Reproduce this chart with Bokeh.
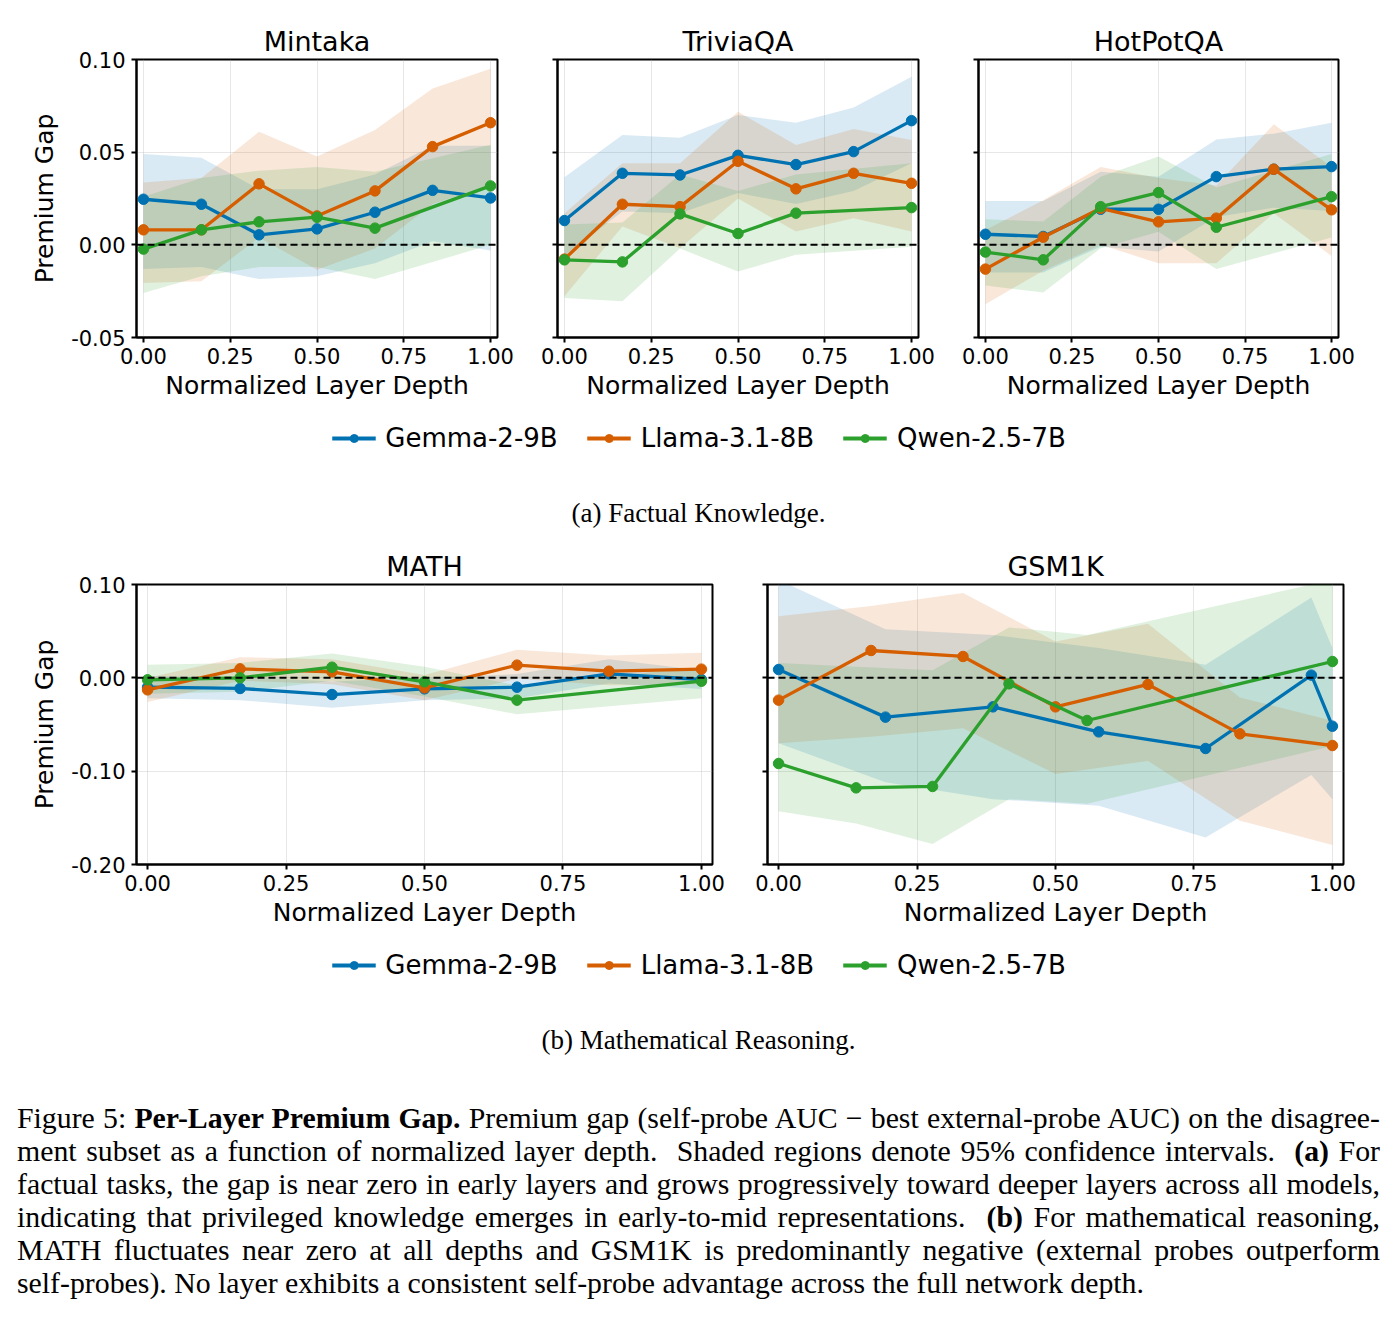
from bokeh.plotting import figure
from bokeh.layouts import column, row
from bokeh.models import (Range1d, Span, Div, Legend, LegendItem, FixedTicker,
                          PrintfTickFormatter, CustomJSTickFormatter)
from bokeh.embed import file_html
from bokeh.resources import INLINE

SANS = "DejaVu Sans"
SERIF = "Liberation Serif"

MODELS = ["Gemma-2-9B", "Llama-3.1-8B", "Qwen-2.5-7B"]
COLORS = ["#0072b2", "#d55e00", "#2ca02c"]

# normalized layer depth of each probed layer
DEPTH = [0.0, 0.167, 0.333, 0.5, 0.667, 0.833, 1.0]
DEPTH_QWEN = [0.0, 0.167, 0.333, 0.5, 0.667, 1.0]
GSM_DEPTH_GEMMA = [0.0, 0.193, 0.387, 0.578, 0.771, 0.962, 1.0]
GSM_DEPTH_LLAMA = [0.0, 0.167, 0.333, 0.5, 0.667, 0.833, 1.0]
GSM_DEPTH_QWEN = [0.0, 0.14, 0.278, 0.416, 0.557, 1.0]

X_TICKS = [0.0, 0.25, 0.5, 0.75, 1.0]
Y_TICKS_FACT = [-0.05, 0.0, 0.05, 0.10]
Y_TICKS_MATH = [-0.20, -0.10, 0.0, 0.10]

# ---- (a) factual knowledge: premium gap with 95% CI ----
mintaka_gemma = [0.0246, 0.0219, 0.0054, 0.0086, 0.0176, 0.0294, 0.0253]
mintaka_gemma_lo = [-0.013, -0.012, -0.0185, -0.017, -0.010, 0.002, -0.003]
mintaka_gemma_hi = [0.049, 0.047, 0.030, 0.030, 0.038, 0.0535, 0.0535]
mintaka_llama = [0.0081, 0.0081, 0.0329, 0.0156, 0.0291, 0.0530, 0.0659]
mintaka_llama_lo = [-0.0206, -0.0197, 0.004, -0.0135, -0.002, 0.022, 0.032]
mintaka_llama_hi = [0.0336, 0.036, 0.061, 0.0476, 0.062, 0.0844, 0.095]
mintaka_qwen = [-0.0023, 0.0081, 0.0124, 0.0149, 0.0090, 0.0318]
mintaka_qwen_lo = [-0.026, -0.017, -0.012, -0.012, -0.0185, 0.0]
mintaka_qwen_hi = [0.026, 0.036, 0.040, 0.042, 0.0395, 0.054]

trivia_gemma = [0.0131, 0.0386, 0.0377, 0.0483, 0.0433, 0.0503, 0.0670]
trivia_gemma_lo = [-0.006, 0.018, 0.017, 0.028, 0.022, 0.029, 0.044]
trivia_gemma_hi = [0.0364, 0.0592, 0.0578, 0.070, 0.0659, 0.0741, 0.0907]
trivia_llama = [-0.0077, 0.0219, 0.0206, 0.0451, 0.0302, 0.0386, 0.0332]
trivia_llama_lo = [-0.0278, 0.0099, -0.0018, 0.025, 0.0072, 0.0144, 0.0072]
trivia_llama_hi = [0.017, 0.044, 0.044, 0.0718, 0.0539, 0.0625, 0.0566]
trivia_qwen = [-0.0081, -0.0092, 0.0167, 0.0061, 0.0171, 0.0201]
trivia_qwen_lo = [-0.0287, -0.0305, -0.002, -0.0144, -0.0054, -0.001]
trivia_qwen_hi = [0.011, 0.012, 0.038, 0.029, 0.038, 0.044]

hotpot_gemma = [0.0057, 0.0045, 0.0192, 0.0192, 0.0368, 0.0408, 0.0422]
hotpot_gemma_lo = [-0.0149, -0.0149, -0.001, -0.0036, 0.015, 0.020, 0.0183]
hotpot_gemma_hi = [0.0237, 0.0237, 0.0395, 0.0368, 0.0569, 0.060, 0.0659]
hotpot_llama = [-0.0131, 0.0041, 0.0197, 0.0124, 0.0144, 0.0408, 0.0189]
hotpot_llama_lo = [-0.032, -0.014, 0.0, -0.0099, -0.0099, 0.017, -0.006]
hotpot_llama_hi = [0.008, 0.024, 0.042, 0.036, 0.032, 0.065, 0.042]
hotpot_qwen = [-0.0039, -0.0081, 0.0206, 0.0282, 0.0095, 0.0260]
hotpot_qwen_lo = [-0.022, -0.0257, -0.0018, 0.007, -0.013, 0.004]
hotpot_qwen_hi = [0.0138, 0.0126, 0.0368, 0.0476, 0.031, 0.049]

# ---- (b) mathematical reasoning ----
math_gemma = [-0.010, -0.0114, -0.0179, -0.0118, -0.010, 0.0043, -0.0018]
math_gemma_lo = [-0.022, -0.024, -0.032, -0.024, -0.022, -0.006, -0.012]
math_gemma_hi = [0.002, 0.001, -0.004, 0.0, 0.004, 0.020, 0.008]
math_llama = [-0.0129, 0.0096, 0.0064, -0.0107, 0.0136, 0.0071, 0.0093]
math_llama_lo = [-0.026, -0.003, -0.007, -0.024, -0.001, -0.008, -0.007]
math_llama_hi = [0.0, 0.022, 0.020, 0.003, 0.030, 0.024, 0.027]
math_qwen = [-0.0021, 0.0, 0.0114, -0.0043, -0.0239, -0.0036]
math_qwen_lo = [-0.017, -0.015, -0.003, -0.020, -0.039, -0.022]
math_qwen_hi = [0.014, 0.016, 0.026, 0.012, -0.008, 0.011]

gsm_gemma = [0.0089, -0.0421, -0.0311, -0.0579, -0.0757, 0.0029, -0.0518]
gsm_gemma_lo = [-0.070, -0.112, -0.130, -0.137, -0.171, -0.104, -0.130]
gsm_gemma_hi = [0.105, 0.052, 0.046, 0.032, 0.014, 0.086, 0.032]
gsm_llama = [-0.0239, 0.0293, 0.0229, -0.0311, -0.0071, -0.060, -0.0725]
gsm_llama_lo = [-0.070, -0.063, -0.054, -0.103, -0.089, -0.153, -0.179]
gsm_llama_hi = [0.066, 0.077, 0.091, 0.039, 0.058, -0.021, -0.046]
gsm_qwen = [-0.0918, -0.1179, -0.1164, -0.0064, -0.0457, 0.0175]
gsm_qwen_lo = [-0.143, -0.156, -0.178, -0.130, -0.135, -0.073]
gsm_qwen_hi = [0.016, 0.012, 0.008, 0.054, 0.046, 0.105]


def panel(title, series, y_range, y_ticks, frame_w, frame_h,
          left, right, top, bottom, show_ylabels):
    p = figure(frame_width=frame_w, frame_height=frame_h,
               x_range=Range1d(-0.02, 1.02), y_range=Range1d(*y_range),
               output_backend="svg", toolbar_location=None,
               min_border_left=left, min_border_right=right,
               min_border_top=top, min_border_bottom=bottom,
               title=title)
    p.title.align = "center"
    p.title.text_font = SANS
    p.title.text_font_size = "27px"
    p.title.text_font_style = "normal"
    p.title.text_color = "black"
    p.title.standoff = 6

    p.outline_line_color = "black"
    p.outline_line_width = 2
    p.outline_line_alpha = 1
    p.background_fill_color = "white"

    p.xaxis.ticker = FixedTicker(ticks=X_TICKS)
    p.yaxis.ticker = FixedTicker(ticks=y_ticks)
    p.xaxis.formatter = PrintfTickFormatter(format="%.2f")
    if show_ylabels:
        p.yaxis.formatter = PrintfTickFormatter(format="%.2f")
        p.yaxis.axis_label = "Premium Gap"
    else:
        p.yaxis.formatter = CustomJSTickFormatter(code="return ''")
    p.xaxis.axis_label = "Normalized Layer Depth"

    for ax in (p.xaxis, p.yaxis):
        ax.axis_line_color = "black"
        ax.axis_line_width = 2
        ax.major_tick_line_color = "black"
        ax.major_tick_line_width = 2
        ax.major_tick_out = 5
        ax.major_tick_in = 0
        ax.minor_tick_line_color = None
        ax.major_label_text_font = SANS
        ax.major_label_text_font_size = "21px"
        ax.major_label_text_color = "black"
        ax.axis_label_text_font = SANS
        ax.axis_label_text_font_size = "25px"
        ax.axis_label_text_font_style = "normal"
        ax.axis_label_text_color = "black"
    p.xaxis.major_label_standoff = 5
    p.xaxis.axis_label_standoff = 4
    p.yaxis.major_label_standoff = 6
    p.yaxis.axis_label_standoff = 9

    p.xgrid.ticker = FixedTicker(ticks=X_TICKS)
    p.ygrid.ticker = FixedTicker(ticks=y_ticks)
    p.grid.grid_line_color = "#b0b0b0"
    p.grid.grid_line_alpha = 0.3
    p.grid.grid_line_width = 1

    # confidence bands underneath, then the per-model curves on top
    for (xs, mean, lo, hi), color in zip(series, COLORS):
        p.varea(x=xs, y1=lo, y2=hi, fill_color=color, fill_alpha=0.15)
    for (xs, mean, lo, hi), color in zip(series, COLORS):
        p.line(x=xs, y=mean, line_color=color, line_width=3.3)
        p.scatter(x=xs, y=mean, size=10.5, fill_color=color, line_color=color)

    p.add_layout(Span(location=0, dimension="width", line_color="black",
                      line_width=2, line_dash="7 4"))
    return p


def legend_strip(height):
    p = figure(width=1397, height=height, output_backend="svg",
               toolbar_location=None, min_border=0,
               x_axis_type=None, y_axis_type=None,
               x_range=Range1d(0, 1), y_range=Range1d(0, 1))
    p.grid.visible = False
    p.outline_line_color = None
    nan = float("nan")
    items = []
    for name, color in zip(MODELS, COLORS):
        # legend-only renderers: a single undefined point, nothing plotted
        r_line = p.line(x=[nan], y=[nan], line_color=color, line_width=3.8)
        r_dot = p.scatter(x=[nan], y=[nan], size=8, fill_color=color,
                          line_color=color)
        items.append(LegendItem(label=name, renderers=[r_line, r_dot]))
    leg = Legend(items=items, orientation="horizontal", location="center",
                 label_text_font=SANS, label_text_font_size="26px",
                 label_text_color="black", glyph_width=44, glyph_height=20,
                 label_standoff=10, spacing=29, padding=0, margin=0,
                 border_line_color=None, background_fill_alpha=0)
    p.add_layout(leg, "center")
    return p


def caption(text, height, pad_top):
    html = ('<div style="width:1397px;text-align:center;'
            f'font-family:\'{SERIF}\';font-size:27px;line-height:33px;'
            f'color:black;padding-top:{pad_top}px;">{text}</div>')
    return Div(text=html, width=1397, height=height, margin=0)


# top row: Mintaka / TriviaQA / HotPotQA
fact_series = {
    "Mintaka": [(DEPTH, mintaka_gemma, mintaka_gemma_lo, mintaka_gemma_hi),
                (DEPTH, mintaka_llama, mintaka_llama_lo, mintaka_llama_hi),
                (DEPTH_QWEN, mintaka_qwen, mintaka_qwen_lo, mintaka_qwen_hi)],
    "TriviaQA": [(DEPTH, trivia_gemma, trivia_gemma_lo, trivia_gemma_hi),
                 (DEPTH, trivia_llama, trivia_llama_lo, trivia_llama_hi),
                 (DEPTH_QWEN, trivia_qwen, trivia_qwen_lo, trivia_qwen_hi)],
    "HotPotQA": [(DEPTH, hotpot_gemma, hotpot_gemma_lo, hotpot_gemma_hi),
                 (DEPTH, hotpot_llama, hotpot_llama_lo, hotpot_llama_hi),
                 (DEPTH_QWEN, hotpot_qwen, hotpot_qwen_lo, hotpot_qwen_hi)],
}
TOP_Y = (-0.05, 0.10)
p_mintaka = panel("Mintaka", fact_series["Mintaka"], TOP_Y, Y_TICKS_FACT,
                  361, 278, 136, 30, 59, 78, True)
p_trivia = panel("TriviaQA", fact_series["TriviaQA"], TOP_Y, Y_TICKS_FACT,
                 361, 278, 30, 30, 59, 78, False)
p_hotpot = panel("HotPotQA", fact_series["HotPotQA"], TOP_Y, Y_TICKS_FACT,
                 360, 278, 30, 59, 59, 78, False)

# bottom row: MATH / GSM1K
math_series = [(DEPTH, math_gemma, math_gemma_lo, math_gemma_hi),
               (DEPTH, math_llama, math_llama_lo, math_llama_hi),
               (DEPTH_QWEN, math_qwen, math_qwen_lo, math_qwen_hi)]
gsm_series = [(GSM_DEPTH_GEMMA, gsm_gemma, gsm_gemma_lo, gsm_gemma_hi),
              (GSM_DEPTH_LLAMA, gsm_llama, gsm_llama_lo, gsm_llama_hi),
              (GSM_DEPTH_QWEN, gsm_qwen, gsm_qwen_lo, gsm_qwen_hi)]
BOT_Y = (-0.20, 0.10)
p_math = panel("MATH", math_series, BOT_Y, Y_TICKS_MATH,
               576, 280, 136, 28, 36, 78, True)
p_gsm = panel("GSM1K", gsm_series, BOT_Y, Y_TICKS_MATH,
              576, 280, 27, 54, 36, 78, False)

line_style = ("width:1363px;margin-left:17px;text-align:justify;"
              "text-align-last:justify;white-space:nowrap;")
last_style = "width:1363px;margin-left:17px;text-align:left;white-space:nowrap;"
para_lines = [
    'Figure 5: <b>Per-Layer Premium Gap.</b> Premium gap (self-probe AUC &minus; '
    'best external-probe AUC) on the disagree-',
    'ment subset as a function of normalized layer depth.&nbsp; Shaded regions '
    'denote 95% confidence intervals.&nbsp; <b>(a)</b> For',
    'factual tasks, the gap is near zero in early layers and grows progressively '
    'toward deeper layers across all models,',
    'indicating that privileged knowledge emerges in early-to-mid representations.'
    '&nbsp; <b>(b)</b> For mathematical reasoning,',
    'MATH fluctuates near zero at all depths and GSM1K is predominantly negative '
    '(external probes outperform',
    'self-probes). No layer exhibits a consistent self-probe advantage across the '
    'full network depth.',
]
body = "".join(
    f'<div style="{line_style if i < len(para_lines) - 1 else last_style}">{t}</div>'
    for i, t in enumerate(para_lines))
paragraph = Div(
    text=(f'<div style="font-family:\'{SERIF}\';font-size:29.8px;line-height:33px;'
          f'color:black;padding-top:29px;">{body}</div>'),
    width=1397, height=261, margin=0)

layout = column(
    row(p_mintaka, p_trivia, p_hotpot, spacing=0),
    legend_strip(46),
    caption("(a) Factual Knowledge.", 84, 36),
    row(p_math, p_gsm, spacing=0),
    legend_strip(46),
    caption("(b) Mathematical Reasoning.", 84, 36),
    paragraph,
    spacing=0,
)

open("out.html", "w").write(file_html(layout, INLINE))
